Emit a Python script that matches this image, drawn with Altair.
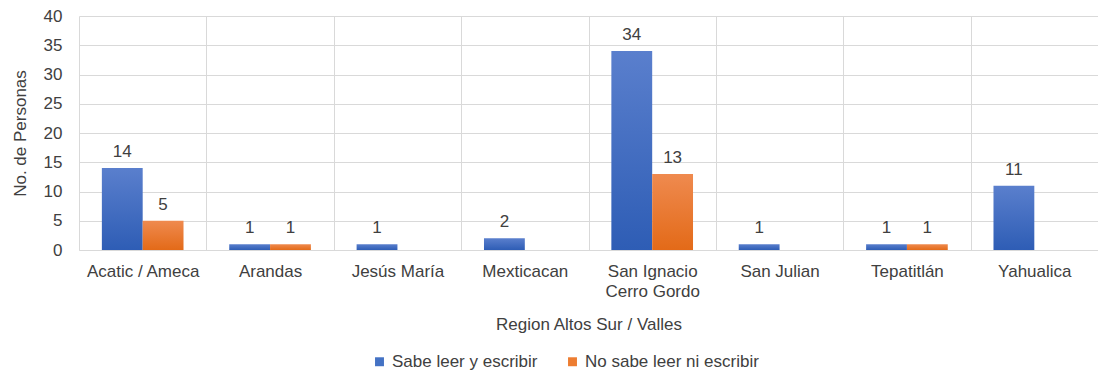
import altair as alt
import pandas as pd

categories = ["Acatic / Ameca", "Arandas", "Jesús María", "Mexticacan",
              "San Ignacio Cerro Gordo", "San Julian", "Tepatitlán", "Yahualica"]
series_names = ["Sabe leer y escribir", "No sabe leer ni escribir"]
sabe = [14, 1, 1, 2, 34, 1, 1, 11]
no_sabe = [5, 1, 0, 0, 13, 0, 1, 0]
colors = ["#4472C4", "#ED7D31"]
grad_stops = [("#5a7fcd", "#2e5db5"), ("#ef8a4f", "#e36a18")]

rows = []
for c, a, b in zip(categories, sabe, no_sabe):
    rows.append({"Region": c, "Serie": series_names[0], "Valor": a})
    rows.append({"Region": c, "Serie": series_names[1], "Valor": b})
df = pd.DataFrame(rows)

FONT = "Liberation Sans"
TXT = "#404040"
FS = 17

x_enc = alt.X("Region:N", sort=categories,
              scale=alt.Scale(paddingInner=0, paddingOuter=0),
              axis=alt.Axis(title="Region Altos Sur / Valles", labelAngle=0,
                            ticks=False, domain=True, domainColor="#d9d9d9",
                            grid=True, gridColor="#d9d9d9", bandPosition=0,
                            tickBand="extent", labelLineHeight=20,
                            labelPadding=13, titlePadding=17,
                            labelExpr="datum.label == 'San Ignacio Cerro Gordo' ? ['San Ignacio','Cerro Gordo'] : datum.label"))
xo_enc = alt.XOffset("Serie:N", sort=series_names,
                     scale=alt.Scale(paddingInner=0, paddingOuter=0.56))
y_enc = alt.Y("Valor:Q", scale=alt.Scale(domain=[0, 40]),
              axis=alt.Axis(title="No. de Personas", values=list(range(0, 41, 5)),
                            labelOverlap=False,
                            ticks=False, domain=False, grid=True, gridColor="#d9d9d9",
                            labelPadding=17, titlePadding=14))

base = alt.Chart(df).transform_filter("datum.Valor > 0").encode(
    x=x_enc, xOffset=xo_enc, y=y_enc)

legend_layer = base.mark_bar(opacity=0).encode(
    color=alt.Color("Serie:N", sort=series_names,
                    scale=alt.Scale(domain=series_names, range=colors),
                    legend=alt.Legend(title=None, orient="none", direction="horizontal",
                                      legendX=292, legendY=337, symbolType="square",
                                      symbolSize=80, symbolStrokeWidth=0,
                                      symbolOpacity=1,
                                      labelFontSize=FS, labelColor=TXT, labelFont=FONT,
                                      labelLimit=400,
                                      columnPadding=26, labelOffset=4)),
)

bar_layers = []
for name, (top, bottom) in zip(series_names, grad_stops):
    grad = alt.Gradient(gradient="linear", x1=0, x2=0, y1=0, y2=1,
                        stops=[alt.GradientStop(color=top, offset=0),
                               alt.GradientStop(color=bottom, offset=1)])
    bar_layers.append(
        base.transform_filter(alt.datum.Serie == name).mark_bar(fill=grad)
    )

labels = base.mark_text(baseline="alphabetic", dy=-11, fontSize=FS, color=TXT,
                        font=FONT).encode(text="Valor:Q")

chart = alt.layer(legend_layer, *bar_layers, labels).properties(
    width=1019, height=234,
    autosize=alt.AutoSizeParams(type="none"),
    padding={"left": 71, "top": 8, "right": 0, "bottom": 125},
).configure_view(stroke=None).configure_axis(
    labelFont=FONT, titleFont=FONT, labelFontSize=FS, titleFontSize=FS,
    labelColor=TXT, titleColor=TXT, titleFontWeight="normal",
)

chart.save("out.html", embed_options={"renderer": "svg", "actions": False})
